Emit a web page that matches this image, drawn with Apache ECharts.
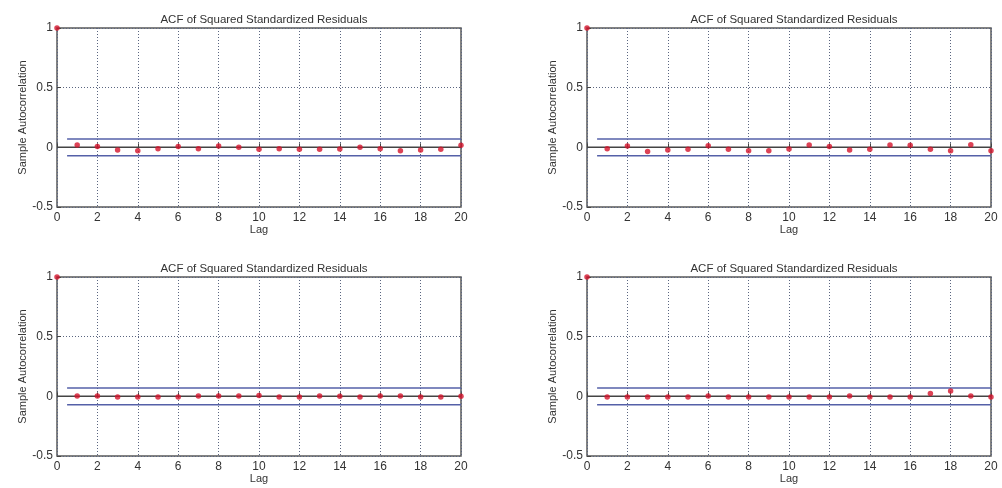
<!DOCTYPE html>
<html>
<head>
<meta charset="utf-8">
<script src="https://cdn.jsdelivr.net/npm/echarts@6/dist/echarts.min.js"></script>
<style>
html,body{margin:0;padding:0;background:#fff;}
#chart{width:1002px;height:488px;}
</style>
</head>
<body>
<div id="chart"></div>
<script>
// ---- data ----
const lags = [0,1,2,3,4,5,6,7,8,9,10,11,12,13,14,15,16,17,18,19,20];
const titleText = "ACF of Squared Standardized Residuals";
const yName = "Sample Autocorrelation";
const xName = "Lag";
const acfTopLeft = [1,0.02,0.008,-0.022,-0.028,-0.011,0.008,-0.011,0.011,0,-0.017,-0.011,-0.017,-0.017,-0.014,0,-0.011,-0.028,-0.022,-0.017,0.017];
const acfTopRight = [1,-0.011,0.011,-0.034,-0.022,-0.017,0.014,-0.017,-0.028,-0.028,-0.014,0.02,0.008,-0.022,-0.017,0.02,0.017,-0.017,-0.028,0.022,-0.028];
const acfBottomLeft = [1,0.003,0.003,-0.006,-0.006,-0.006,-0.006,0.003,0.003,0.003,0.008,-0.006,-0.006,0.003,0,-0.006,0.003,0.003,-0.006,-0.006,0];
const acfBottomRight = [1,-0.006,-0.006,-0.006,-0.006,-0.006,0.003,-0.006,-0.006,-0.006,-0.006,-0.006,-0.006,0.003,-0.006,-0.006,-0.006,0.024,0.045,0.003,-0.006];
const upperBound = 0.07;
const lowerBound = -0.07;
const boundStartLag = 0.5;
const panels = [acfTopLeft, acfTopRight, acfBottomLeft, acfBottomRight];

// ---- layout ----
const gridPos = [
  {left:57, top:28},
  {left:587, top:28},
  {left:57, top:277},
  {left:587, top:277}
];
const W = 404, H = 179;
const font = 'Liberation Sans, Arial, sans-serif';

const option = {
  animation:false,
  backgroundColor:'#fff',
  title: gridPos.map(g => ({
    text: titleText,
    left: g.left + W/2,
    top: g.top - 19,
    textAlign:'center',
    textStyle:{fontFamily:font, fontSize:11.5, fontWeight:'normal', color:'#333'}
  })),
  grid: gridPos.map(g => ({
    left:g.left, top:g.top, width:W, height:H,
    show:true, borderColor:'#5a5a5a', borderWidth:1.5, backgroundColor:'transparent'
  })),
  xAxis: gridPos.map((g,i) => ({
    type:'value', gridIndex:i, min:0, max:20, interval:2,
    name:xName, nameLocation:'middle', nameGap:17,
    nameTextStyle:{fontFamily:font, fontSize:11, color:'#333'},
    axisLine:{show:false},
    axisTick:{show:true, inside:true, length:4, lineStyle:{color:'#444'}},
    axisLabel:{fontFamily:font, fontSize:12, color:'#333', margin:5},
    splitLine:{show:true, lineStyle:{type:[1,2], color:'#5a6580', width:1}}
  })),
  yAxis: gridPos.map((g,i) => ({
    type:'value', gridIndex:i, min:-0.5, max:1, interval:0.5,
    name:yName, nameLocation:'middle', nameGap:28,
    nameTextStyle:{fontFamily:font, fontSize:11, color:'#333'},
    axisLine:{show:false},
    axisTick:{show:true, inside:true, length:4, lineStyle:{color:'#444'}},
    axisLabel:{fontFamily:font, fontSize:12, color:'#333', margin:4},
    splitLine:{show:true, lineStyle:{type:[1,2], color:'#5a6580', width:1}}
  })),
  series: []
};

panels.forEach((vals, i) => {
  option.series.push({
    type:'line', xAxisIndex:i, yAxisIndex:i, symbol:'none',
    data:[[0,0],[20,0]], lineStyle:{color:'#444', width:1.5}, silent:true, z:2
  });
  option.series.push({
    type:'line', xAxisIndex:i, yAxisIndex:i, symbol:'none',
    data:[[boundStartLag,upperBound],[20,upperBound]], lineStyle:{color:'#5560a8', width:1.5}, silent:true, z:2
  });
  option.series.push({
    type:'line', xAxisIndex:i, yAxisIndex:i, symbol:'none',
    data:[[boundStartLag,lowerBound],[20,lowerBound]], lineStyle:{color:'#5560a8', width:1.5}, silent:true, z:2
  });
  option.series.push({
    type:'scatter', xAxisIndex:i, yAxisIndex:i, symbol:'circle', symbolSize:5.5,
    data: lags.map((l,k) => [l, vals[k]]),
    itemStyle:{color:'#d3142c'}, z:5, clip:false
  });
});

const chart = echarts.init(document.getElementById('chart'), null, {renderer:'canvas'});
chart.setOption(option);
</script>
</body>
</html>
